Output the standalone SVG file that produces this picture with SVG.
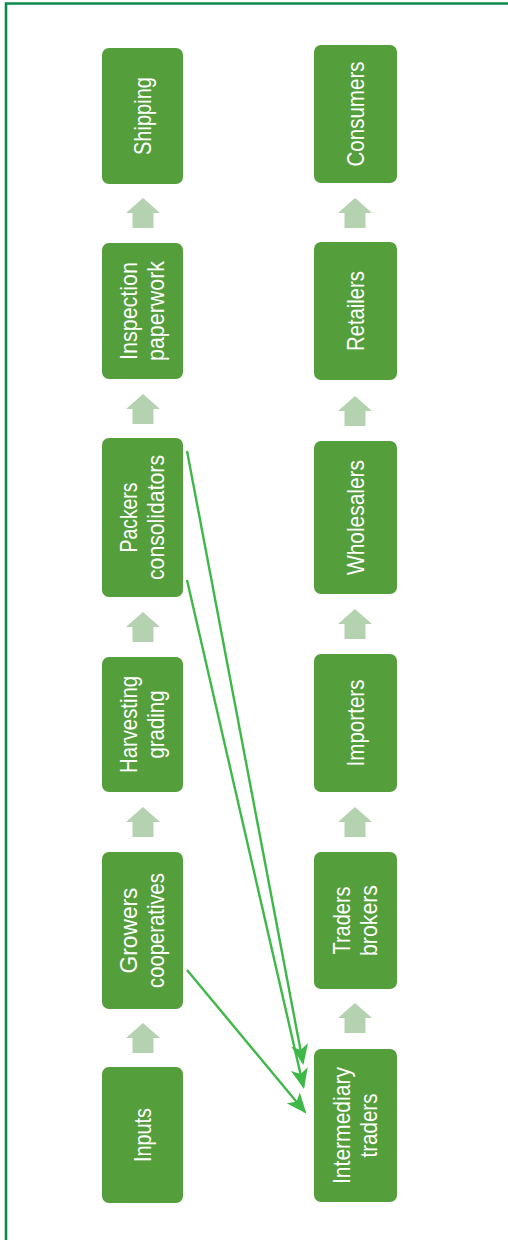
<svg xmlns="http://www.w3.org/2000/svg" width="508" height="1240" viewBox="0 0 508 1240">
<style>
.box{fill:#549e3c}
.t{font-family:"Liberation Sans",Arial,sans-serif;font-size:24px;fill:#ffffff;text-anchor:middle}
.up{fill:#b5d2b0}
.con{stroke:#3fb84a;stroke-width:2.4;fill:none;marker-end:url(#ah)}
</style>
<defs>
<marker id="ah" viewBox="0 0 10 10" refX="9" refY="5" markerWidth="8.5" markerHeight="8.5" markerUnits="strokeWidth" orient="auto">
<path d="M0,0.8 L10,5 L0,9.2 L2.5,5 Z" fill="#3fb84a"/>
</marker>
<path id="upa" d="M0,-15 L17,0 L10.5,0 L10.5,15 L-10.5,15 L-10.5,0 L-17,0 Z"/>
</defs>
<rect width="508" height="1240" fill="#ffffff"/>
<path d="M6,1240 V3.5 H508" fill="none" stroke="#0b8a4c" stroke-width="2.6"/>

<g id="shipping"><rect class="box" x="102" y="48" width="81" height="136" rx="7"/>
<text class="t" transform="translate(142.5,116) rotate(-90)" y="8" textLength="78" lengthAdjust="spacingAndGlyphs">Shipping</text></g>
<g id="inspection"><rect class="box" x="102" y="243" width="81" height="136" rx="7"/>
<text class="t" transform="translate(142.5,311) rotate(-90)"><tspan x="0" y="-6" textLength="98" lengthAdjust="spacingAndGlyphs">Inspection</tspan><tspan x="0" y="21" textLength="100" lengthAdjust="spacingAndGlyphs">paperwork</tspan></text></g>
<g id="packers"><rect class="box" x="102" y="438" width="81" height="159" rx="7"/>
<text class="t" transform="translate(142.5,517.5) rotate(-90)"><tspan x="0" y="-6" textLength="70" lengthAdjust="spacingAndGlyphs">Packers</tspan><tspan x="0" y="21" textLength="125" lengthAdjust="spacingAndGlyphs">consolidators</tspan></text></g>
<g id="harvesting"><rect class="box" x="102" y="657" width="81" height="135" rx="7"/>
<text class="t" transform="translate(142.5,724.5) rotate(-90)"><tspan x="0" y="-6" textLength="97" lengthAdjust="spacingAndGlyphs">Harvesting</tspan><tspan x="0" y="21" textLength="68" lengthAdjust="spacingAndGlyphs">grading</tspan></text></g>
<g id="growers"><rect class="box" x="102" y="852" width="81" height="157" rx="7"/>
<text class="t" transform="translate(142.5,930.5) rotate(-90)"><tspan x="0" y="-6" textLength="86" lengthAdjust="spacingAndGlyphs">Growers</tspan><tspan x="0" y="21" textLength="115" lengthAdjust="spacingAndGlyphs">cooperatives</tspan></text></g>
<g id="inputs"><rect class="box" x="102" y="1067" width="81" height="136" rx="7"/>
<text class="t" transform="translate(142.5,1135) rotate(-90)" y="8" textLength="54" lengthAdjust="spacingAndGlyphs">Inputs</text></g>

<g id="consumers"><rect class="box" x="314" y="45" width="83" height="138" rx="7"/>
<text class="t" transform="translate(355.5,114) rotate(-90)" y="8" textLength="105" lengthAdjust="spacingAndGlyphs">Consumers</text></g>
<g id="retailers"><rect class="box" x="314" y="242" width="83" height="138" rx="7"/>
<text class="t" transform="translate(355.5,311) rotate(-90)" y="8" textLength="80" lengthAdjust="spacingAndGlyphs">Retailers</text></g>
<g id="wholesalers"><rect class="box" x="314" y="441" width="83" height="153" rx="7"/>
<text class="t" transform="translate(355.5,517.5) rotate(-90)" y="8" textLength="115" lengthAdjust="spacingAndGlyphs">Wholesalers</text></g>
<g id="importers"><rect class="box" x="314" y="654" width="83" height="138" rx="7"/>
<text class="t" transform="translate(355.5,723) rotate(-90)" y="8" textLength="87" lengthAdjust="spacingAndGlyphs">Importers</text></g>
<g id="traders"><rect class="box" x="314" y="852" width="83" height="137" rx="7"/>
<text class="t" transform="translate(355.5,920.5) rotate(-90)"><tspan x="0" y="-6" textLength="68" lengthAdjust="spacingAndGlyphs">Traders</tspan><tspan x="0" y="21" textLength="71" lengthAdjust="spacingAndGlyphs">brokers</tspan></text></g>
<g id="intermediary"><rect class="box" x="314" y="1049" width="83" height="153" rx="7"/>
<text class="t" transform="translate(355.5,1125.5) rotate(-90)"><tspan x="0" y="-6" textLength="117" lengthAdjust="spacingAndGlyphs">Intermediary</tspan><tspan x="0" y="21" textLength="64" lengthAdjust="spacingAndGlyphs">traders</tspan></text></g>

<g id="flow-arrows" class="up">
<use href="#upa" x="143" y="213"/>
<use href="#upa" x="143" y="409"/>
<use href="#upa" x="143" y="627"/>
<use href="#upa" x="143" y="822"/>
<use href="#upa" x="143" y="1038"/>
<use href="#upa" x="355" y="213"/>
<use href="#upa" x="355" y="411"/>
<use href="#upa" x="355" y="624"/>
<use href="#upa" x="355" y="822"/>
<use href="#upa" x="355" y="1018"/>
</g>

<g id="connectors">
<line class="con" x1="187" y1="451" x2="303" y2="1063"/>
<line class="con" x1="187" y1="580" x2="303.5" y2="1087"/>
<line class="con" x1="187" y1="970" x2="305" y2="1112"/>
</g>
</svg>
